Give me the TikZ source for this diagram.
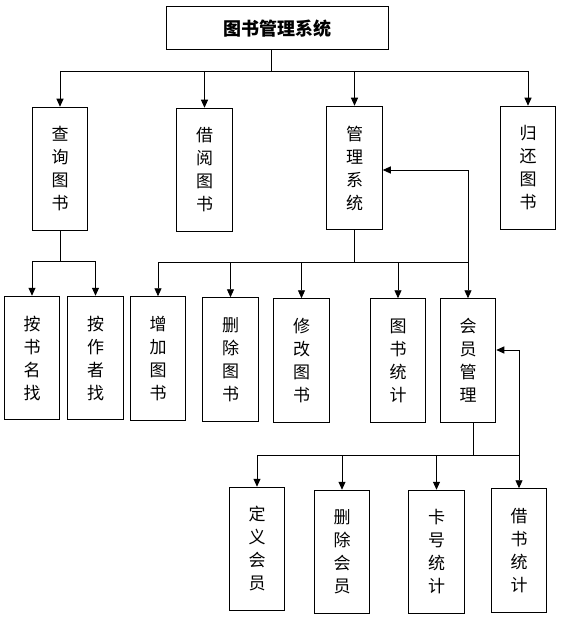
\documentclass[tikz,border=0pt]{standalone}
\usepackage{fontspec}
\newfontfamily\cjk{Noto Sans CJK SC}
\usetikzlibrary{arrows.meta}
\tikzset{
  box/.style={draw, line width=1pt, inner sep=0pt, minimum width=55.5pt, minimum height=123.5pt,
    align=center, font=\cjk\fontsize{17}{23}\selectfont},
  titlebox/.style={draw, line width=1pt, inner sep=0pt, minimum width=222pt, minimum height=43pt,
    font=\cjk\bfseries\fontsize{18}{22}\selectfont},
  ln/.style={line width=0.9pt},
  arr/.style={line width=0.9pt, -{Triangle[length=8pt,width=7pt]}}
}
\begin{document}
\begin{tikzpicture}[x=1pt,y=1pt]
\useasboundingbox (0,0) rectangle (585,-628);
% nodes
\node[titlebox] (top) at (277,-28.5) {图书管理系统};
\node[box] (q) at (60,-169) {查\\询\\图\\书};
\node[box] (j) at (204.5,-170) {借\\阅\\图\\书};
\node[box] (g) at (354.5,-168) {管\\理\\系\\统};
\node[box] (h) at (528,-168) {归\\还\\图\\书};
\node[box] (a1) at (32,-358) {按\\书\\名\\找};
\node[box] (a2) at (95.5,-358) {按\\作\\者\\找};
\node[box] (z) at (158,-358.5) {增\\加\\图\\书};
\node[box] (s) at (230.5,-359.5) {删\\除\\图\\书};
\node[box] (x) at (301.5,-360.5) {修\\改\\图\\书};
\node[box] (t) at (398,-360.5) {图\\书\\统\\计};
\node[box] (m) at (468,-360.5) {会\\员\\管\\理};
\node[box] (d) at (257,-549) {定\\义\\会\\员};
\node[box] (c) at (342,-552) {删\\除\\会\\员};
\node[box] (k) at (436.5,-552) {卡\\号\\统\\计};
\node[box] (b) at (519,-550.5) {借\\书\\统\\计};
% bus 1
\coordinate (b1) at (271,-71);
\draw[ln] (b1 |- top.south) -- (b1);
\draw[ln] (q.north |- b1) -- (h.north |- b1);
\foreach \n in {q,j,g,h} \draw[arr] (\n.north |- b1) -- (\n.north);
% bus 2
\coordinate (b2) at (61,-261);
\draw[ln] (q.south) -- (q.south |- b2);
\draw[ln] (a1.north |- b2) -- (a2.north |- b2);
\foreach \n in {a1,a2} \draw[arr] (\n.north |- b2) -- (\n.north);
% bus 3
\coordinate (b3) at (354.5,-262);
\draw[ln] (g.south) -- (b3);
\draw[ln] (z.north |- b3) -- (m.north |- b3);
\foreach \n in {z,s,x,t,m} \draw[arr] (\n.north |- b3) -- (\n.north);
\coordinate (f1) at (467,-170);
\draw[ln] (m.north |- b3) -- (m.north |- f1);
\draw[arr] (m.north |- f1) -- (g.east |- f1);
% bus 4
\coordinate (b4) at (473,-455);
\draw[ln] (b4 |- m.south) -- (b4);
\draw[ln] (d.north |- b4) -- (b.north |- b4);
\foreach \n in {d,c,k,b} \draw[arr] (\n.north |- b4) -- (\n.north);
\coordinate (f2) at (520,-350);
\draw[ln] (b.north |- b4) -- (b.north |- f2);
\draw[arr] (b.north |- f2) -- (m.east |- f2);
\end{tikzpicture}
\end{document}
